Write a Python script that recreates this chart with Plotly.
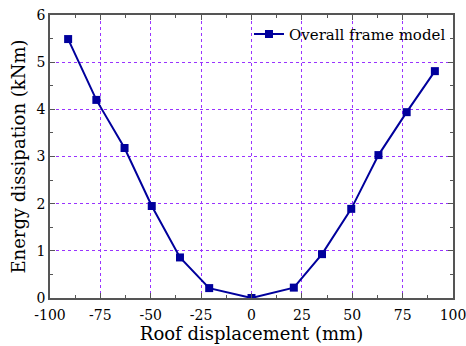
import plotly.graph_objects as go

disp = [-91, -77, -63, -49.5, -35.5, -21, 0, 21, 35, 49.5, 63, 77, 91]
energy = [5.49, 4.20, 3.18, 1.95, 0.86, 0.21, 0.0, 0.22, 0.93, 1.89, 3.03, 3.94, 4.81]
x_ticks = [-100, -75, -50, -25, 0, 25, 50, 75, 100]
x_labels = ["-100", "-75", "-50", "-25", "0", "25", "50", "75", "100"]
y_ticks = [0, 1, 2, 3, 4, 5, 6]
y_labels = ["0", "1", "2", "3", "4", "5", "6"]

font = "DejaVu Serif"
fig = go.Figure()
fig.add_trace(go.Scatter(
    x=disp, y=energy, mode="lines+markers", name="Overall frame model",
    line=dict(color="#00009C", width=2),
    marker=dict(symbol="square", size=8, color="#00009C"),
))

axis_common = dict(
    showline=True, linecolor="#555555", linewidth=1.5, mirror="ticks",
    ticks="inside", ticklen=5, tickwidth=1.2, tickcolor="#555555",
    showgrid=True, gridcolor="#9933FF", griddash="dot", gridwidth=1,
    zeroline=False, tickfont=dict(family=font, size=14, color="black"),
    automargin=False, ticklabeloverflow="allow",
)
fig.update_xaxes(range=[-100, 100], tickvals=x_ticks, ticktext=x_labels,
                 minor=dict(ticks="inside", ticklen=3, dtick=12.5, tick0=0, tickcolor="#555555", showgrid=False),
                 title=dict(text="Roof displacement (mm)", font=dict(family=font, size=18, color="black"), standoff=5),
                 ticklabelstandoff=3,
                 **axis_common)
fig.update_yaxes(range=[0, 6], tickvals=y_ticks, ticktext=y_labels,
                 minor=dict(ticks="inside", ticklen=3, dtick=0.5, tick0=0, tickcolor="#555555", showgrid=False),
                 title=dict(text="Energy dissipation (kNm)", font=dict(family=font, size=18, color="black"), standoff=6),
                 **axis_common)
fig.update_layout(
    width=466, height=346, margin=dict(l=50, r=13, t=15, b=48),
    plot_bgcolor="white", paper_bgcolor="white",
    font=dict(family=font),
    showlegend=True,
    legend=dict(x=0.995, y=0.99, xanchor="right", yanchor="top", bgcolor="rgba(0,0,0,0)",
                font=dict(family=font, size=15, color="black")),
)
fig.write_html("out.html")
